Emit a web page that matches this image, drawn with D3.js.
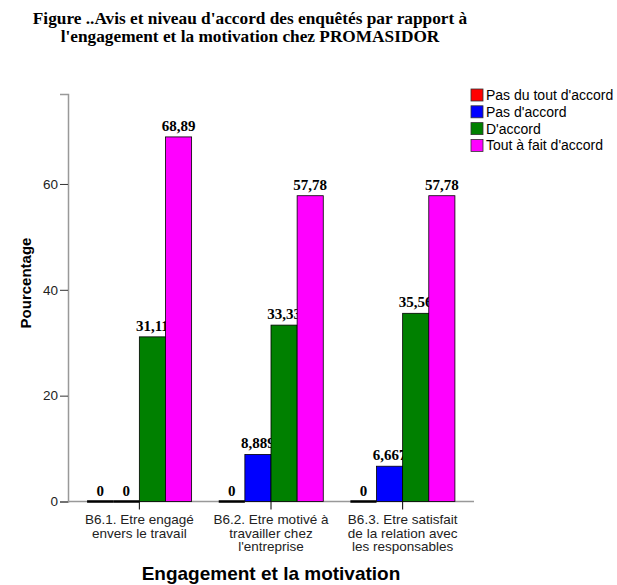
<!DOCTYPE html>
<html>
<head>
<meta charset="utf-8">
<script src="https://cdn.jsdelivr.net/npm/d3@7"></script>
<style>
  body { margin: 0; background: #fff; }
  .title { font-family: "Liberation Serif", "Times New Roman", serif; font-weight: bold; font-size: 17.3px; }
  .axis-title { font-family: "Liberation Sans", Arial, sans-serif; font-weight: bold; font-size: 15px; }
  .x-title { font-size: 19px; }
  .tick-label { font-family: "Liberation Sans", Arial, sans-serif; font-size: 13.5px; fill: #222; }
  .value { font-family: "Liberation Serif", "Times New Roman", serif; font-weight: bold; font-size: 15px; }
  .legend text { font-family: "Liberation Sans", Arial, sans-serif; font-size: 14px; }
</style>
</head>
<body>
<div id="chart"></div>
<script>
// data
let categories = [
  ["B6.1. Etre engagé", "envers le travail"],
  ["B6.2. Etre motivé à", "travailler chez", "l'entreprise"],
  ["B6.3. Etre satisfait", "de la relation avec", "les responsables"]
];
let seriesNames = ["Pas du tout d'accord", "Pas d'accord", "D'accord", "Tout à fait d'accord"];
let pasDuTout = [0, 0, 0];
let pasDaccord = [0, 8.889, 6.667];
let daccord = [31.11, 33.33, 35.56];
let toutAFait = [68.89, 57.78, 57.78];
let yTicks = [0, 20, 40, 60];

let colors = ["#ff0000", "#0000ff", "#008000", "#ff00ff"];
let series = [pasDuTout, pasDaccord, daccord, toutAFait];

let width = 617;
let height = 585;

let svg = d3.select("#chart").append("svg")
  .attr("width", width)
  .attr("height", height);

// title
let title = svg.append("text")
  .attr("class", "title")
  .attr("text-anchor", "middle");
title.append("tspan").attr("x", 250).attr("y", 24).text("Figure ..Avis et niveau d'accord des enquêtés par rapport à");
title.append("tspan").attr("x", 250).attr("y", 42).text("l'engagement et la motivation chez PROMASIDOR");

// scales
let x = d3.scaleBand()
  .domain(d3.range(categories.length))
  .range([68, 474])
  .paddingInner(0.206)
  .paddingOuter(0.145);

let x1 = d3.scaleBand()
  .domain(d3.range(seriesNames.length))
  .range([0, x.bandwidth()]);

let y = d3.scaleLinear()
  .domain([0, 77])
  .range([501.5, 94]);

// y axis
let yAxis = svg.append("g")
  .attr("transform", "translate(68,0)")
  .call(d3.axisLeft(y).tickValues(yTicks).tickSize(8).tickPadding(2).tickFormat(d3.format("d")));
yAxis.select(".domain").attr("stroke", "#999").attr("stroke-width", 1.5);
yAxis.selectAll(".tick line").attr("stroke", "#333");
yAxis.selectAll(".tick text").attr("class", "tick-label").attr("font-family", null).attr("font-size", null);

// x axis baseline
svg.append("line")
  .attr("x1", 68).attr("x2", 474)
  .attr("y1", y(0)).attr("y2", y(0))
  .attr("stroke", "#999").attr("stroke-width", 1.5);

// bars and value labels, series by series so later bars cover earlier labels
series.forEach(function(vals, s) {
  let g = svg.append("g");
  g.selectAll("rect")
    .data(vals)
    .enter().append("rect")
    .attr("x", function(d, i) { return x(i) + x1(s); })
    .attr("y", function(d) { return y(d); })
    .attr("width", x1.bandwidth())
    .attr("height", function(d) { return y(0) - y(d); })
    .attr("fill", colors[s])
    .attr("stroke", "#000")
    .attr("stroke-width", 0.8);
  // zero values show as a flat black line on the baseline
  g.selectAll("line")
    .data(vals.map(function(d, i) { return { v: d, i: i }; }).filter(function(d) { return d.v === 0; }))
    .enter().append("line")
    .attr("x1", function(d) { return x(d.i) + x1(s); })
    .attr("x2", function(d) { return x(d.i) + x1(s) + x1.bandwidth(); })
    .attr("y1", y(0)).attr("y2", y(0))
    .attr("stroke", "#000")
    .attr("stroke-width", 2.5);
  g.selectAll("text")
    .data(vals)
    .enter().append("text")
    .attr("class", "value")
    .attr("text-anchor", "middle")
    .attr("x", function(d, i) { return x(i) + x1(s) + x1.bandwidth() / 2; })
    .attr("y", function(d) { return y(d) - 6; })
    .text(function(d) { return d === 0 ? "0" : String(d).replace(".", ","); });
});

// category ticks and labels
let cat = svg.selectAll(".cat")
  .data(categories)
  .enter().append("g")
  .attr("class", "cat")
  .attr("transform", function(d, i) { return "translate(" + (x(i) + x.bandwidth() / 2) + ",0)"; });
cat.append("line")
  .attr("y1", y(0)).attr("y2", y(0) + 8)
  .attr("stroke", "#000");
cat.append("text")
  .attr("class", "tick-label")
  .attr("text-anchor", "middle")
  .selectAll("tspan")
  .data(function(d) { return d; })
  .enter().append("tspan")
  .attr("x", 0)
  .attr("y", function(d, i) { return 524 + i * 13.7; })
  .text(function(d) { return d; });

// axis titles
svg.append("text")
  .attr("class", "axis-title")
  .attr("text-anchor", "middle")
  .attr("transform", "translate(31,283) rotate(-90)")
  .text("Pourcentage");
svg.append("text")
  .attr("class", "axis-title x-title")
  .attr("text-anchor", "middle")
  .attr("x", 271).attr("y", 580)
  .text("Engagement et la motivation");

// legend
let legend = svg.append("g")
  .attr("class", "legend")
  .attr("transform", "translate(471,89)")
  .selectAll("g")
  .data(seriesNames)
  .enter().append("g")
  .attr("transform", function(d, i) { return "translate(0," + (i * 16.8) + ")"; });
legend.append("rect")
  .attr("width", 12).attr("height", 12)
  .attr("fill", function(d, i) { return colors[i]; })
  .attr("stroke", "#333").attr("stroke-width", 0.8);
legend.append("text")
  .attr("x", 15).attr("y", 11)
  .text(function(d) { return d; });
</script>
</body>
</html>
